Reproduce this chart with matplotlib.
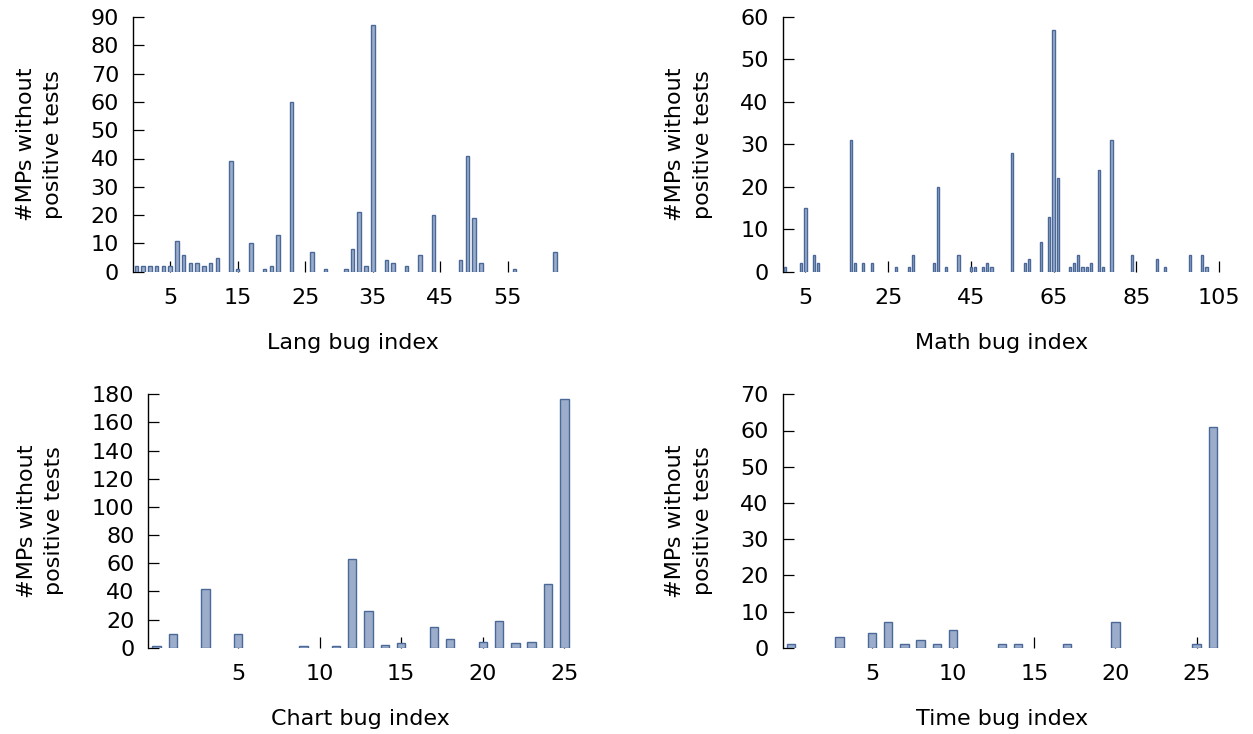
import matplotlib
matplotlib.use('Agg')
import matplotlib.pyplot as plt

# bug position -> number of MPs without positive tests (empty positions are 0)
lang_idx = [0, 1, 2, 3, 4, 5, 6, 7, 8, 9, 10, 11, 12, 14, 15, 17, 19, 20, 21, 23, 26, 28,
            31, 32, 33, 34, 35, 37, 38, 40, 42, 44, 48, 49, 50, 51, 56, 62]
lang_mps = [2, 2, 2, 2, 2, 2, 11, 6, 3, 3, 2, 3, 5, 39, 1, 10, 1, 2, 13, 60, 7, 1,
            1, 8, 21, 2, 87, 4, 3, 2, 6, 20, 4, 41, 19, 3, 1, 7]

math_idx = [0, 4, 5, 7, 8, 16, 17, 19, 21, 27, 30, 31, 36, 37, 39, 42, 45, 46, 48, 49, 50,
            55, 58, 59, 62, 64, 65, 66, 69, 70, 71, 72, 73, 74, 76, 77, 79, 84, 90, 92,
            98, 101, 102]
math_mps = [1, 2, 15, 4, 2, 31, 2, 2, 2, 1, 1, 4, 2, 20, 1, 4, 1, 1, 1, 2, 1,
            28, 2, 3, 7, 13, 57, 22, 1, 2, 4, 1, 1, 2, 24, 1, 31, 4, 3, 1,
            4, 4, 1]

chart_idx = [0, 1, 3, 5, 9, 11, 12, 13, 14, 15, 17, 18, 20, 21, 22, 23, 24, 25]
chart_mps = [1, 10, 42, 10, 1, 1, 63, 26, 2, 3, 15, 6, 4, 19, 3, 4, 45, 177]

time_idx = [0, 3, 5, 6, 7, 8, 9, 10, 13, 14, 17, 20, 25, 26]
time_mps = [1, 3, 4, 7, 1, 2, 1, 5, 1, 1, 1, 7, 1, 61]

panels = [
    ('Lang', lang_idx, lang_mps, 65, 90, 10, [5, 15, 25, 35, 45, 55]),
    ('Math', math_idx, math_mps, 106, 60, 10, [5, 25, 45, 65, 85, 105]),
    ('Chart', chart_idx, chart_mps, 26, 180, 20, [5, 10, 15, 20, 25]),
    ('Time', time_idx, time_mps, 27, 70, 10, [5, 10, 15, 20, 25]),
]

plt.rcParams.update({'font.size': 16, 'font.family': 'DejaVu Sans'})
fig = plt.figure(figsize=(12.53, 7.34), dpi=100)

W, H = 1253, 734
boxes = [(133, 17, 572, 271.7), (782.7, 17, 1221, 271.7),
         (148.3, 394.3, 572.5, 647.7), (782.7, 394.3, 1221, 647.7)]

for (name, idx, mps, n, ymax, ystep, xt), (x0, y0, x1, y1) in zip(panels, boxes):
    ax = fig.add_axes([x0 / W, 1 - y1 / H, (x1 - x0) / W, (y1 - y0) / H])
    ax.bar(idx, mps, width=0.52, color='#9badca', edgecolor='#4a6898', linewidth=1.0, zorder=3)
    ax.set_xlim(-0.5, n - 0.5)
    ax.set_ylim(0, ymax)
    ax.set_yticks(range(0, ymax + 1, ystep))
    ax.set_xticks(xt)
    for s in ['top', 'right', 'bottom']:
        ax.spines[s].set_visible(False)
    ax.spines['left'].set_linewidth(1.0)
    ax.tick_params(axis='y', direction='in', length=8, width=0.9, pad=10)
    ax.tick_params(axis='x', direction='in', length=8, width=0.9, pad=12)
    ax.set_xlabel(name + ' bug index', labelpad=18)
    ax.set_ylabel('#MPs without\npositive tests', labelpad=20, linespacing=1.45)

plt.savefig('out.png', dpi=100)
